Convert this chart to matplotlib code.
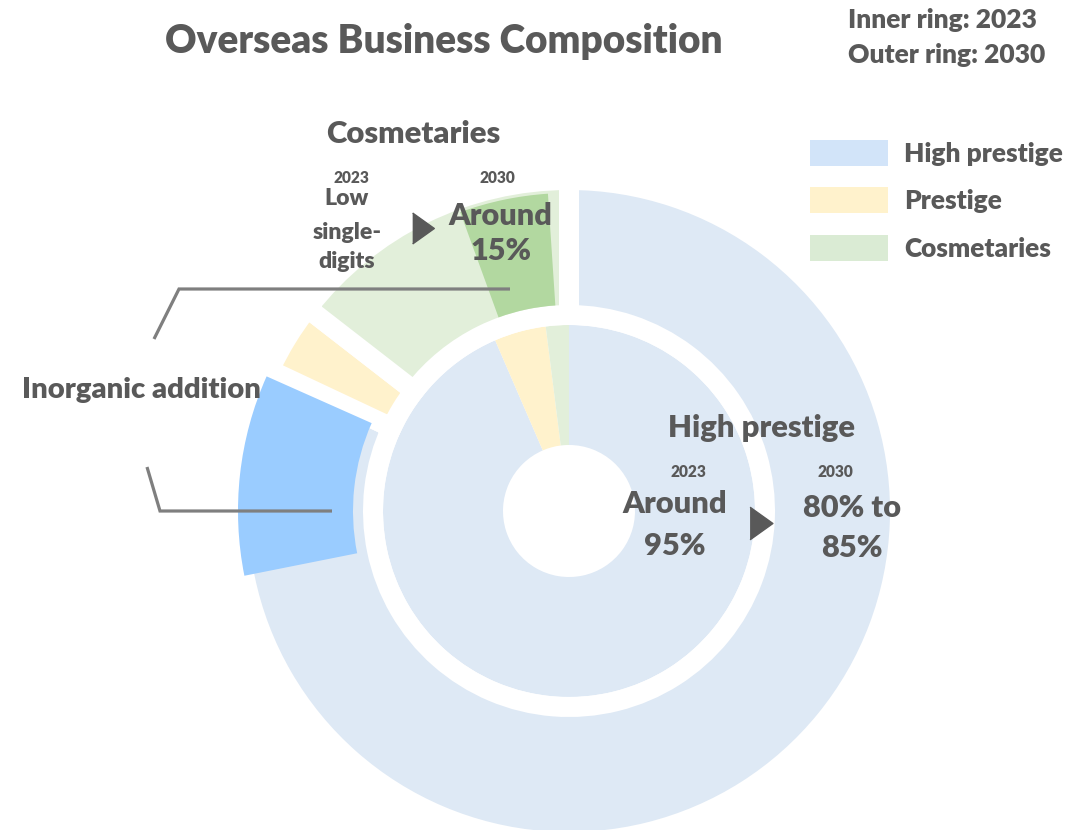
import matplotlib
matplotlib.use("Agg")
import matplotlib.pyplot as plt
from matplotlib.patches import Wedge, Patch

# ---------------- data ----------------
categories = ["High prestige", "Prestige", "Cosmetaries"]
share_2023 = [93.5, 4.5, 2.0]      # inner ring (%)
share_2030 = [82.0, 3.5, 14.5]     # outer ring (%)
inorganic_2030 = 9.8               # inorganic addition inside high prestige 2030 (%)
cosmetaries_focus_2030 = 4.5       # highlighted part of cosmetaries 2030 (%)

ring_colors = ["#DEE9F5", "#FFF2CC", "#E2EFDA"]
legend_colors = ["#D2E4F9", "#FFF2CC", "#DAEBD4"]
inorganic_color = "#9ACCFF"
focus_color = "#B2D8A0"

title = "Overseas Business Composition"
ring_note = ["Inner ring: 2023", "Outer ring: 2030"]
year_labels = ["2023", "2030"]
cosm_title = "Cosmetaries"
cosm_2023 = ["Low", "single-", "digits"]
cosm_2030 = ["Around", "15%"]
hp_title = "High prestige"
hp_2023 = ["Around", "95%"]
hp_2030 = ["80% to", "85%"]
inorganic_label = "Inorganic addition"

TXT = "#595959"
LINE = "#7F7F7F"
FONT = "Lato"
WEIGHT = "heavy"

# ---------------- figure ----------------
W, H = 1088, 830
fig = plt.figure(figsize=(W / 100, H / 100), dpi=100)
ax = fig.add_axes([0, 0, 1, 1])

def Y(py):
    return H - py

cx, cy = 569, Y(511)
gap_lw = 14.4  # white separators (points)

# inner ring (2023)
ax.pie(share_2023, colors=ring_colors, startangle=90, counterclock=False,
       radius=186, center=(cx, cy), frame=True,
       wedgeprops=dict(width=120, linewidth=0))
# outer ring (2030)
ax.pie(share_2030, colors=ring_colors, startangle=90, counterclock=False,
       radius=331, center=(cx, cy), frame=True,
       wedgeprops=dict(width=135, edgecolor="white", linewidth=gap_lw))

# inorganic addition highlight (end of high prestige slice, pushed outward)
hp_end_cw = 3.6 * share_2030[0] - 1.2
th1 = 90 - hp_end_cw
ax.add_patch(Wedge((cx, cy), 331, th1, th1 + 3.6 * inorganic_2030, width=115,
                   facecolor=inorganic_color, linewidth=0, zorder=3))
# cosmetaries highlight
cos_end_cw = 360 - 3.8
th1 = 90 - cos_end_cw
ax.add_patch(Wedge((cx, cy), 318, th1, th1 + 3.6 * cosmetaries_focus_2030, width=112,
                   facecolor=focus_color, linewidth=0, zorder=3))

ax.set_xlim(0, W)
ax.set_ylim(0, H)
ax.set_aspect("equal")
ax.axis("off")

# leader lines
ax.plot([154, 179, 510], [Y(339), Y(289), Y(289)], color=LINE, lw=2.3,
        solid_capstyle="butt", solid_joinstyle="miter", zorder=4)
ax.plot([147, 160, 332], [Y(467), Y(511), Y(511)], color=LINE, lw=2.3,
        solid_capstyle="butt", solid_joinstyle="miter", zorder=4)

# arrows
tri = [(-0.35, -0.5), (0.35, 0.0), (-0.35, 0.5)]
ax.plot([423], [Y(228)], marker=tri, ms=22.3, color=TXT, linestyle="none", zorder=5)
ax.plot([761], [Y(523)], marker=tri, ms=23.5, color=TXT, linestyle="none", zorder=5)

fig.canvas.draw()
rend = fig.canvas.get_renderer()

def put(s, x, y, w, ha="center", size=None):
    t = ax.text(x, Y(y), s, ha=ha, va="baseline", color=TXT, fontweight=WEIGHT,
                family=FONT, fontsize=20, zorder=6)
    if size is not None:
        t.set_fontsize(size)
    else:
        bb = t.get_window_extent(renderer=rend)
        t.set_fontsize(20 * w / bb.width)
    return t

put(title, 444, 53, 558)
t2 = put(ring_note[1], 848, 63, 197, ha="left")
put(ring_note[0], 848, 28, 0, ha="left", size=t2.get_fontsize())

put(cosm_title, 413, 143, 175)
ty = put(year_labels[0], 351, 183, 36)
ys = ty.get_fontsize()
put(year_labels[1], 497, 183, 0, size=ys)
put(year_labels[0], 688, 477, 0, size=ys)
put(year_labels[1], 835, 477, 0, size=ys)

ts = put(cosm_2023[1], 347, 239, 69)
put(cosm_2023[0], 347, 205, 0, size=ts.get_fontsize())
put(cosm_2023[2], 347, 268, 0, size=ts.get_fontsize())

ta = put(cosm_2030[0], 500, 225, 104)
put(cosm_2030[1], 501, 260, 0, size=ta.get_fontsize())

put(inorganic_label, 22, 398, 240, ha="left")
put(hp_title, 762, 437, 188)

tb = put(hp_2023[0], 675, 513, 105)
put(hp_2023[1], 675, 555, 0, size=tb.get_fontsize())
put(hp_2030[0], 852, 517, 98)
put(hp_2030[1], 852, 557, 0, size=tb.get_fontsize())

# legend
handles = [Patch(facecolor=c, edgecolor="none") for c in legend_colors]
leg = ax.legend(handles, categories, loc="upper left", bbox_to_anchor=(810 / W, 1 - 140 / H),
                frameon=False, borderpad=0, borderaxespad=0,
                prop=dict(family=FONT, weight=WEIGHT, size=19),
                handlelength=2.95, handleheight=1.15, handletextpad=0.62,
                labelspacing=0.80)
for t in leg.get_texts():
    t.set_color(TXT)
fig.canvas.draw()
# fit legend label width to reference
bb = leg.get_texts()[0].get_window_extent(renderer=rend)
scale = 158 / bb.width
for t in leg.get_texts():
    t.set_fontsize(t.get_fontsize() * scale)

fig.savefig("out.png", dpi=100)
